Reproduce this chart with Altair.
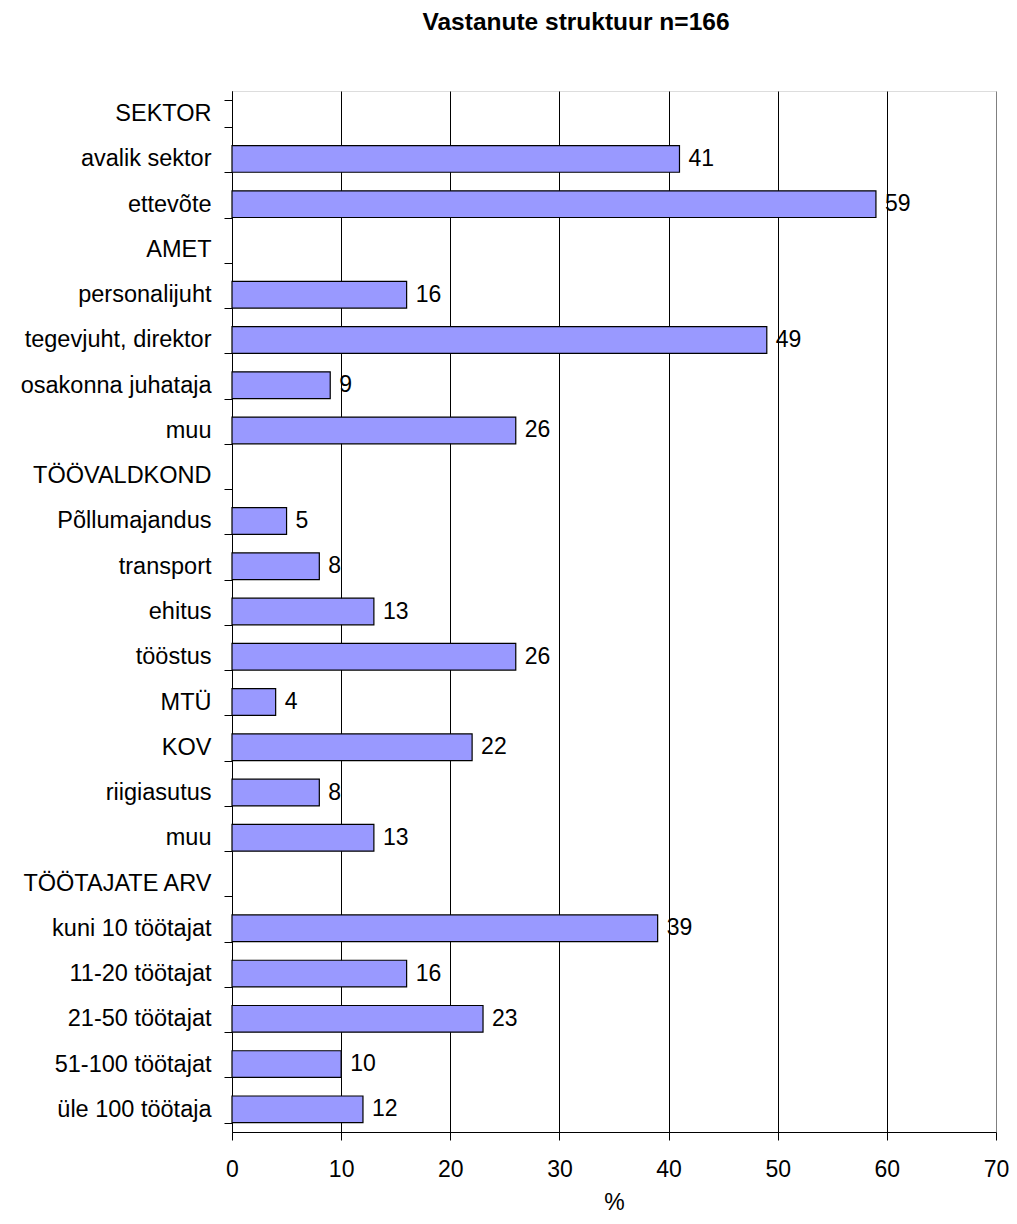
import json
import altair as alt
import pandas as pd

labels = ["SEKTOR", "avalik sektor", "ettevõte", "AMET", "personalijuht",
          "tegevjuht, direktor", "osakonna juhataja", "muu", "TÖÖVALDKOND",
          "Põllumajandus", "transport", "ehitus", "tööstus", "MTÜ", "KOV",
          "riigiasutus", "muu", "TÖÖTAJATE ARV", "kuni 10 töötajat",
          "11-20 töötajat", "21-50 töötajat", "51-100 töötajat", "üle 100 töötaja"]
values = [None, 41, 59, None, 16, 49, 9, 26, None, 5, 8, 13, 26, 4, 22, 8, 13,
          None, 39, 16, 23, 10, 12]
x_ticks = [0, 10, 20, 30, 40, 50, 60, 70]

df = pd.DataFrame({"idx": list(range(len(labels))), "label": labels, "value": values})

FONT = "Liberation Sans"
label_expr = json.dumps(labels, ensure_ascii=False) + "[datum.value]"

y_enc = alt.Y(
    "idx:O",
    sort=list(range(len(labels))),
    scale=alt.Scale(paddingInner=0.41, paddingOuter=0.205),
    axis=alt.Axis(
        title=None, labelExpr=label_expr, labelFont=FONT, labelFontSize=23.5,
        labelColor="black", labelPadding=13, labelLimit=0, tickSize=8,
        tickColor="black", domainColor="black", tickBand="extent",
        minExtent=219, maxExtent=219, grid=False,
    ),
)
x_enc = alt.X(
    "value:Q",
    scale=alt.Scale(domain=[0, 70], nice=False, zero=True),
    axis=alt.Axis(
        title="%", values=x_ticks, labelFont=FONT, labelFontSize=23,
        labelColor="black", labelPadding=18, labelFlush=False, tickSize=8,
        tickColor="black", domainColor="black", grid=True,
        gridColor={"condition": {"test": "datum.value == 70", "value": "#808080"}, "value": "black"},
        gridOpacity=1, titleFont=FONT, titleFontSize=23, titleFontWeight="normal",
        titleColor="black", titlePadding=10,
    ),
)

bars = alt.Chart(df).mark_bar(color="#9999FF", stroke="black", strokeWidth=1.2).encode(
    x=x_enc, y=y_enc
)
text = alt.Chart(df).mark_text(
    align="left", baseline="middle", dx=9, font=FONT, fontSize=23, color="black"
).encode(
    x=alt.X("value:Q"), y=alt.Y("idx:O", sort=list(range(len(labels)))),
    text=alt.Text("value:Q"),
)

chart = (bars + text).properties(
    width=764, height=1041,
    padding={"left": 5, "top": 1, "right": 0, "bottom": 0},
    title=alt.TitleParams(
        "Vastanute struktuur  n=166", font=FONT, fontSize=24.5, fontWeight="bold",
        color="black", anchor="middle", dx=-38, offset=44,
    ),
).configure_view(stroke="#808080", strokeWidth=1).configure(background="white")

chart.save("out.html", embed_options={"renderer": "svg", "actions": False})
